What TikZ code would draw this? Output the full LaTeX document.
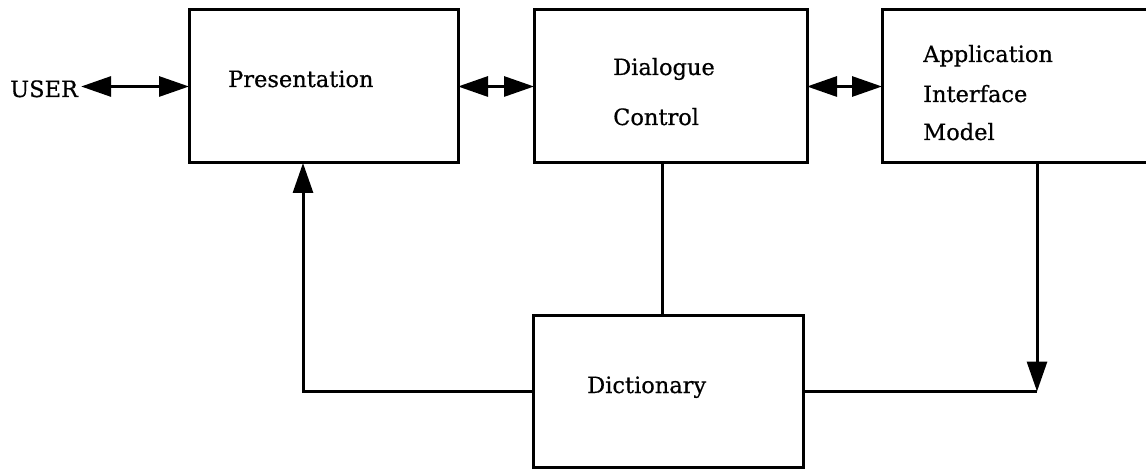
\documentclass[tikz,border=0pt]{standalone}
\usepackage{fontspec}
\setmainfont{DejaVu Serif}
\newfontfamily\lblfont[RawFeature={embolden=0.6}]{DejaVu Serif}
\usetikzlibrary{arrows.meta}
\begin{document}
\begin{tikzpicture}[x=1pt,y=-1pt,
  box/.style={draw,line width=3pt,rectangle,outer sep=0pt,inner sep=0pt},
  lbl/.style={anchor=base west,inner sep=0pt,font=\lblfont\fontsize{22.5}{27}\selectfont},
  conn/.style={line width=3pt},
  arr/.style={conn,-{Triangle[length=30pt,width=20pt]}},
  dbl/.style={conn,{Triangle[length=30pt,width=20pt]}-{Triangle[length=30pt,width=20pt]}}]
\useasboundingbox (0,0) rectangle (1146,470);
\clip (0,0) rectangle (1146,470);
% boxes
\node[box,minimum width=269pt,minimum height=153pt] (pres) at (323.5,86.5) {};
\node[box,minimum width=273pt,minimum height=153pt] (dlg) at (670.5,86.5) {};
\node[box,minimum width=290pt,minimum height=153pt] (aim) at (1027,86.5) {};
\node[box,minimum width=270pt,minimum height=151pt] (dict) at (668,391.5) {};
% labels
\node[lbl] (user) at (10,97) {USER};
\node[lbl] (presl) at (228,87) {Presentation};
\node[lbl] (dlg1) at (613,75) {Dialogue};
\node[lbl] (dlg2) at (613,125) {Control};
\node[lbl] (aim1) at (923,62) {Application};
\node[lbl] (aim2) at (923,102) {Interface};
\node[lbl] (aim3) at (923,140) {Model};
\node[lbl] (dictl) at (587,393) {Dictionary};
% coordinates for off-centre connector ends
\coordinate (pin) at (303,163);
\coordinate (aout) at (1037,163);
\coordinate (dtop) at (662,316);
% connectors
\draw[dbl] ([xshift=3pt]user.east |- pres.west) -- (pres.west);
\draw[dbl] (pres.east) -- (dlg.west);
\draw[dbl] (dlg.east) -- (aim.west);
\draw[conn] (dtop |- dlg.south) -- (dtop);
\draw[arr] (dict.west) -| (pin);
\draw[conn] (dict.east) -- (aout |- dict.east);
\draw[arr] (aout) -- (aout |- dict.east);
\end{tikzpicture}
\end{document}
